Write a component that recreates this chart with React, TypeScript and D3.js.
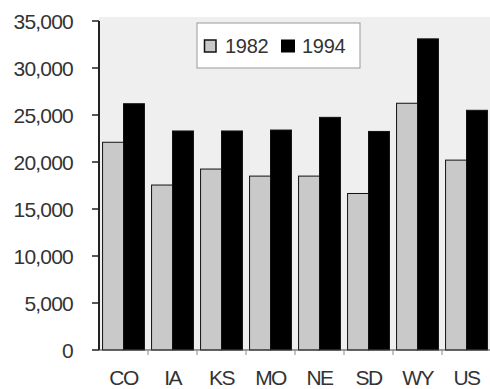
import React from "react";
import * as d3 from "d3";

const categories = ["CO", "IA", "KS", "MO", "NE", "SD", "WY", "US"];
const series1982 = [22100, 17550, 19250, 18500, 18500, 16650, 26250, 20200];
const series1994 = [26200, 23300, 23300, 23400, 24750, 23250, 33100, 25500];
const seriesNames = ["1982", "1994"];
const yTicks = [0, 5000, 10000, 15000, 20000, 25000, 30000, 35000];

const W = 490;
const H = 389;
const left = 99;
const right = 491;
const top = 21;
const bottom = 350;

export default function App() {
  const x = d3.scaleBand<string>().domain(categories).range([left, right]).paddingInner(0).paddingOuter(0);
  const y = d3.scaleLinear().domain([0, 35000]).range([bottom, top]);
  const inner = d3.scaleBand<string>().domain(seriesNames).range([0, x.bandwidth()]).paddingOuter(0.17).paddingInner(0);
  const fmt = d3.format(",");
  const font = "'Liberation Sans', Arial, sans-serif";
  const fills = ["#c9c9c9", "#000000"];
  const data = [series1982, series1994];

  return (
    <svg width={W} height={H} style={{ position: "absolute", left: 0, top: 0, background: "#fff" }}>
      <rect x={left} y={17} width={right - left} height={bottom - 17} fill="#efefef" />
      {categories.map((c, i) =>
        seriesNames.map((s, j) => {
          const v = data[j][i];
          return (
            <rect
              key={c + s}
              x={(x(c) as number) + (inner(s) as number)}
              y={y(v)}
              width={inner.bandwidth()}
              height={bottom - y(v)}
              fill={fills[j]}
              stroke="#111"
              strokeWidth={1}
            />
          );
        })
      )}
      {/* y axis */}
      <line x1={left} x2={left} y1={top} y2={bottom} stroke="#222" strokeWidth={2} />
      {yTicks.map((t) => (
        <g key={t}>
          <line x1={left - 7} x2={left} y1={y(t)} y2={y(t)} stroke="#222" strokeWidth={1.5} />
          <text x={73} y={y(t)} dy="0.36em" textAnchor="end" fontFamily={font} fontSize={21} fill="#333" letterSpacing={-0.8}>
            {fmt(t)}
          </text>
        </g>
      ))}
      {/* x axis */}
      <line x1={left} x2={right} y1={bottom} y2={bottom} stroke="#444" strokeWidth={1} />
      {categories.map((c) => (
        <line key={"t" + c} x1={(x(c) as number) + x.bandwidth()} x2={(x(c) as number) + x.bandwidth()} y1={bottom} y2={bottom + 5} stroke="#888" strokeWidth={1} />
      ))}
      {categories.map((c) => (
        <text key={"l" + c} x={(x(c) as number) + x.bandwidth() / 2} y={385} textAnchor="middle" fontFamily={font} fontSize={21} fill="#333" letterSpacing={-1.6}>
          {c}
        </text>
      ))}
      {/* legend */}
      <rect x={197} y={23} width={163} height={45} fill="#fff" stroke="#999" strokeWidth={1} />
      <rect x={204.5} y={40} width={11.5} height={12} fill={fills[0]} stroke="#111" strokeWidth={1.5} />
      <text x={225} y={46} dy="0.36em" fontFamily={font} fontSize={20} fill="#333" letterSpacing={-0.3}>
        {seriesNames[0]}
      </text>
      <rect x={281} y={39.5} width={14} height={13} fill={fills[1]} />
      <text x={302} y={46} dy="0.36em" fontFamily={font} fontSize={20} fill="#333" letterSpacing={-0.3}>
        {seriesNames[1]}
      </text>
    </svg>
  );
}
